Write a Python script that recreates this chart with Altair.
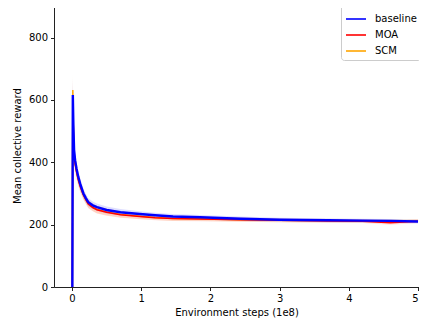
import altair as alt
import pandas as pd

# --- data (x in units of 1e8 environment steps) ---
steps = [0.005, 0.012, 0.02, 0.03, 0.045, 0.065, 0.09, 0.12, 0.165, 0.2, 0.235, 0.3,
         0.36, 0.5, 0.7, 0.98, 1.2, 1.46, 1.85, 2.43, 3.0, 3.29, 3.7, 4.2, 4.6, 5.0]
baseline = [0, 616, 520, 440, 407, 380, 354, 330, 300, 285, 272, 262,
            256, 247, 240, 234, 230, 226, 224, 219, 216, 215, 214, 213, 212, 210]
moa = [0, 610, 500, 430, 395, 370, 345, 322, 295, 280, 266, 255,
       248, 240, 232, 226, 222, 220, 218, 216, 214, 213, 212, 211, 206, 211]
scm = [0, 632, 510, 420, 400, 372, 348, 324, 296, 281, 267, 256,
       249, 241, 233, 227, 223, 220, 219, 216, 214, 213, 213, 212, 212, 212]
spread = [0, 55, 40, 30, 25, 22, 20, 18, 15, 14, 13, 12,
          12, 11, 10, 9, 8, 8, 7, 7, 6, 6, 6, 6, 6, 6]

series_names = ["baseline", "MOA", "SCM"]
series_colors = ["#0000ff", "#ff0000", "#ffa500"]
x_ticks = [0, 1, 2, 3, 4, 5]
y_ticks = [0, 200, 400, 600, 800]

rows = []
for name, vals in zip(series_names, [baseline, moa, scm]):
    for x, y, s in zip(steps, vals, spread):
        rows.append({"series": name, "x": x, "y": y, "lo": y - s, "hi": y + s})
df = pd.DataFrame(rows)

W, H = 365, 283
xs = alt.Scale(domain=[-0.26, 5.014], nice=False, zero=False)
ys = alt.Scale(domain=[0, 908], nice=False)
cs = alt.Scale(domain=series_names, range=series_colors)

xax = alt.Axis(values=x_ticks, format="d", title="Environment steps (1e8)")
yax = alt.Axis(values=y_ticks, format="d", title="Mean collective reward")
leg = alt.Legend(title=None, orient="none", legendX=287, legendY=0,
                 symbolType="stroke", symbolSize=400,
                 symbolStrokeWidth=1.6, labelOffset=8,
                 padding=4, rowPadding=0,
                 fillColor="rgba(255,255,255,0.8)",
                 strokeColor="#cccccc", cornerRadius=3)

base = alt.Chart(df)

def band(name, col):
    return base.transform_filter(alt.datum.series == name).mark_area(opacity=0.13, color=col).encode(
        x=alt.X("x:Q", scale=xs, axis=xax),
        y=alt.Y("lo:Q", scale=ys, axis=yax),
        y2="hi:Q",
    )

def line(name, sw):
    return base.transform_filter(alt.datum.series == name).mark_line(strokeWidth=sw).encode(
        x=alt.X("x:Q", scale=xs, axis=xax),
        y=alt.Y("y:Q", scale=ys, axis=yax),
        color=alt.Color("series:N", scale=cs, legend=leg),
    )

top = alt.Chart(pd.DataFrame({"a": [0]})).mark_rule(color="#222222", strokeWidth=1).encode(
    x=alt.value(0), x2=alt.value(W), y=alt.value(0.5)
)

layers = [band(n, c) for n, c in zip(series_names[::-1], series_colors[::-1])]
layers += [line("SCM", 1.5), line("MOA", 1.5), line("baseline", 2.4), top]

chart = alt.layer(*layers).properties(
    width=W, height=H,
    autosize=alt.AutoSizeParams(type="none"),
    padding={"left": 46, "top": -4, "right": 0, "bottom": 36},
).configure_view(stroke=None).configure_axis(
    grid=False, domainColor="#222222", tickColor="#222222", tickSize=3.5,
    labelFont="DejaVu Sans", labelFontSize=10, labelColor="black",
    titleFont="DejaVu Sans", titleFontSize=10, titleFontWeight="normal", titleColor="black",
).configure_axisY(labelPadding=3, titlePadding=6).configure_axisX(labelPadding=3, titlePadding=4
).configure_legend(labelFont="DejaVu Sans", labelFontSize=10, labelColor="black")

chart.save("out.html", embed_options={"renderer": "svg", "actions": False})
